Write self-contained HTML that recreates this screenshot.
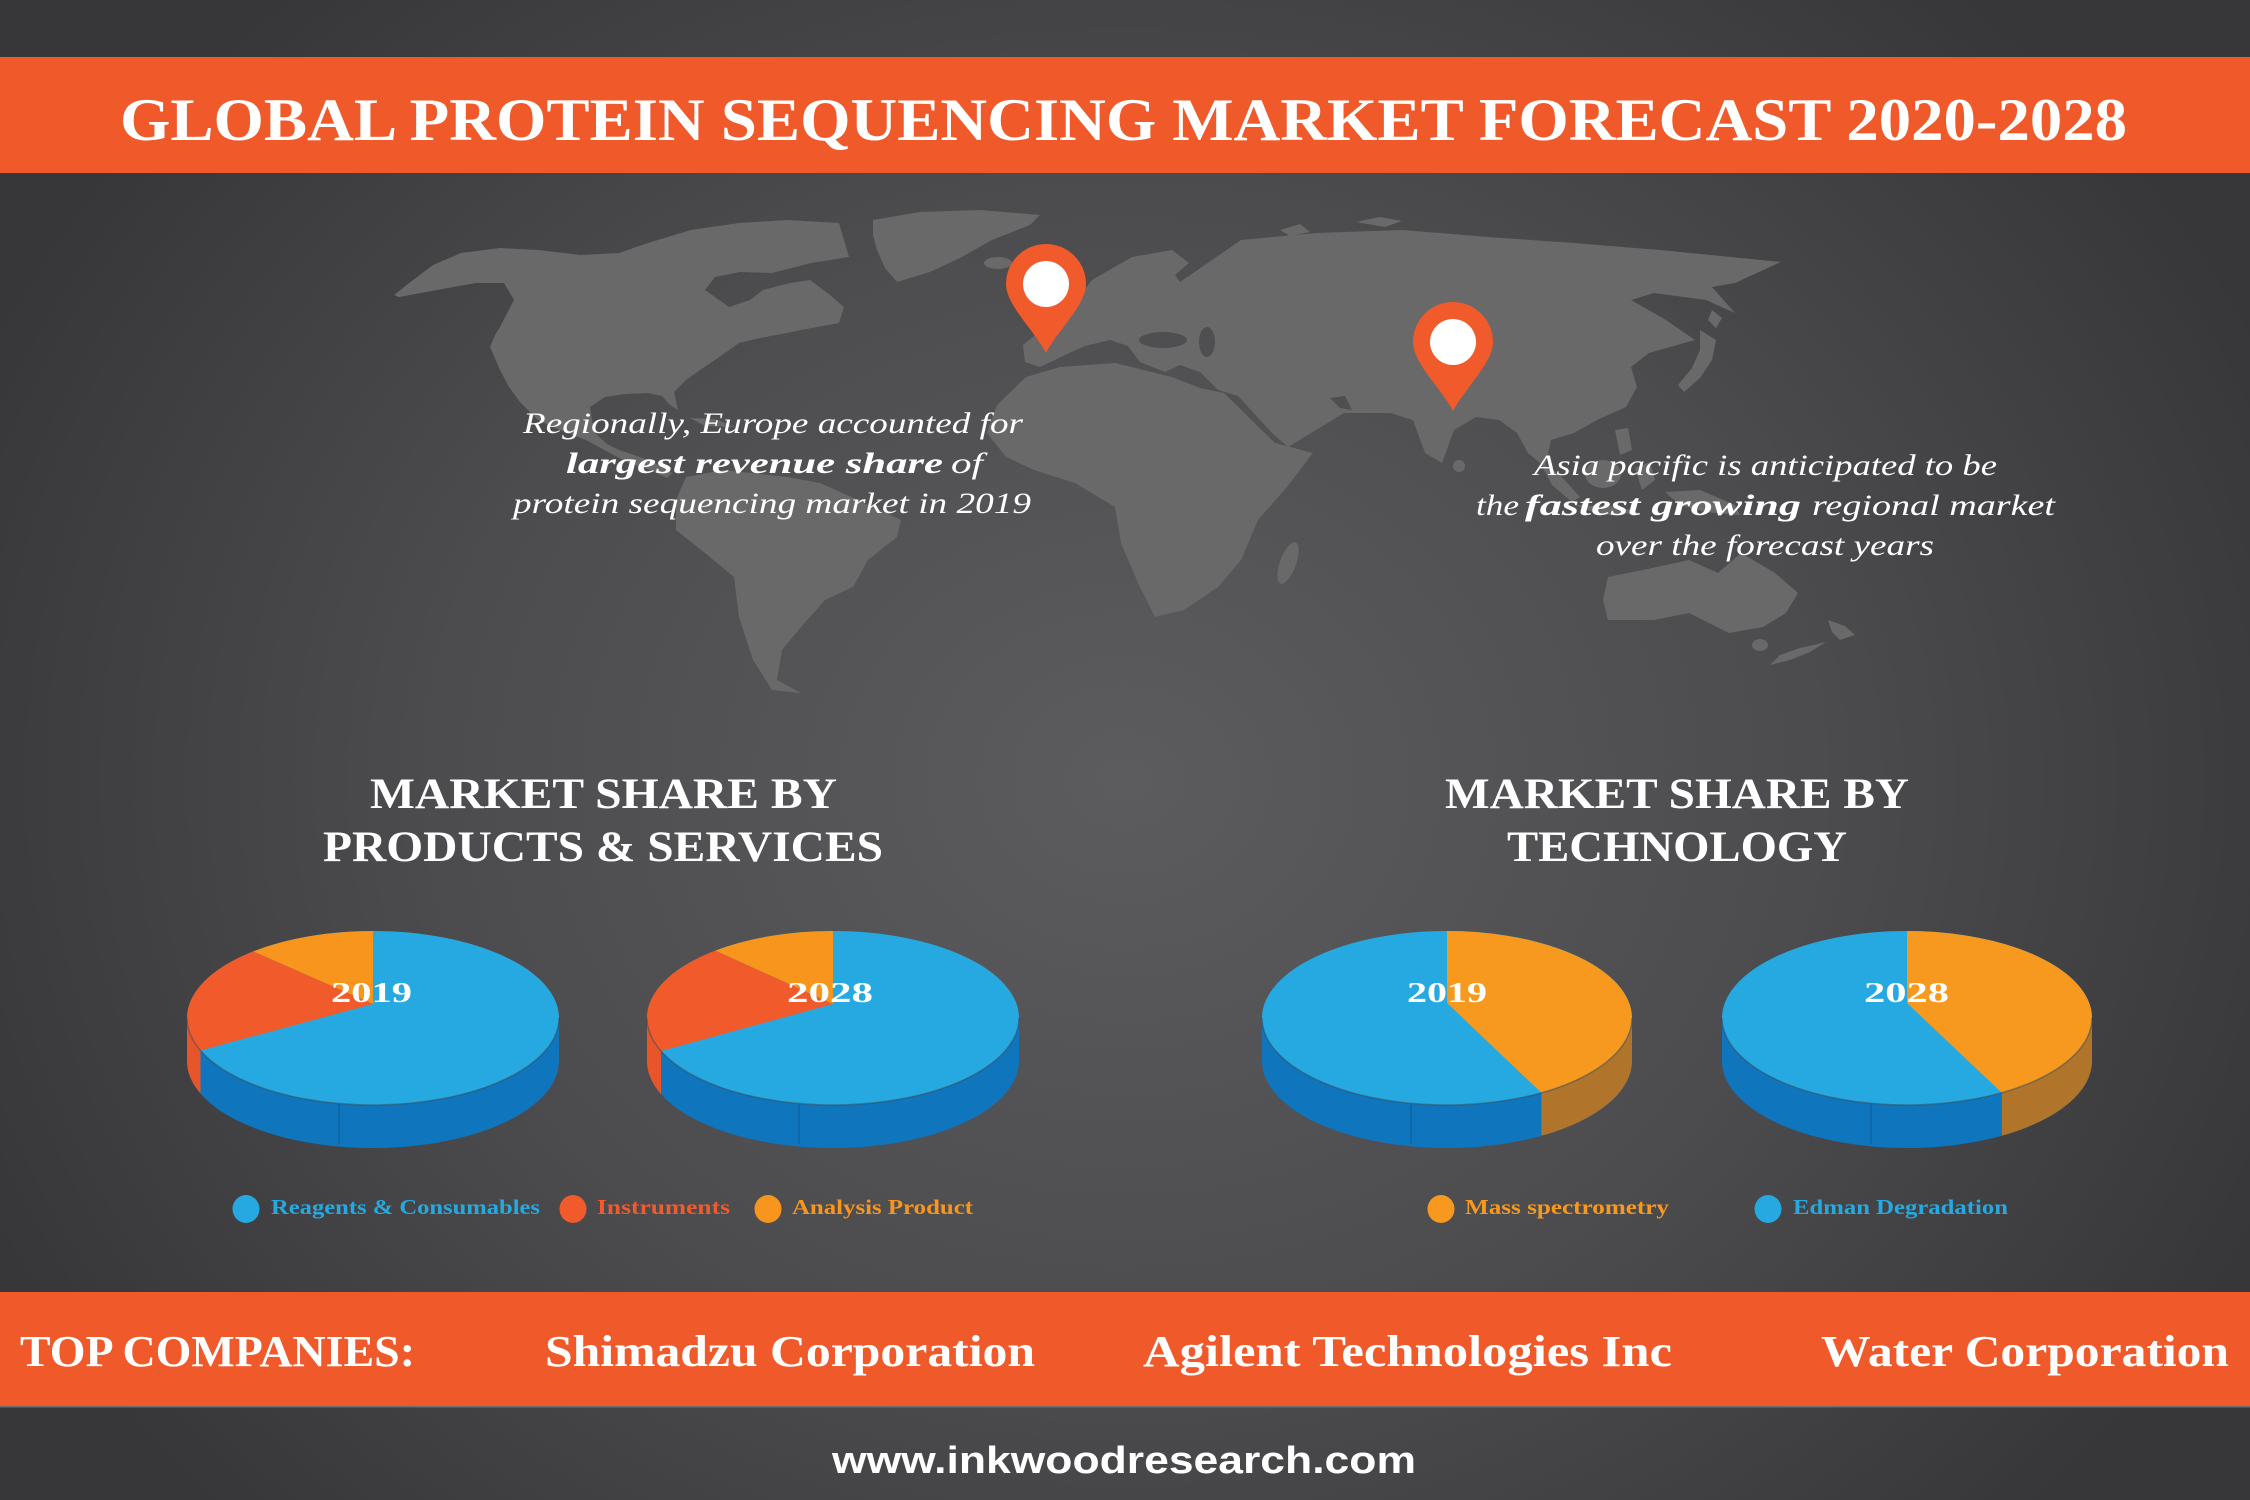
<!DOCTYPE html>
<html>
<head>
<meta charset="utf-8">
<style>
html,body{margin:0;padding:0;background:#404042;}
body{width:2250px;height:1500px;overflow:hidden;}
svg{display:block;}
.serif{font-family:"Liberation Serif","DejaVu Serif",serif;}
.sans{font-family:"Liberation Sans","DejaVu Sans",sans-serif;}
</style>
</head>
<body>
<svg width="2250" height="1500" viewBox="0 0 2250 1500" xmlns="http://www.w3.org/2000/svg">
<defs>
<radialGradient id="bg" gradientUnits="userSpaceOnUse" cx="1125" cy="780" r="1250" gradientTransform="translate(1125 780) scale(1 0.85) translate(-1125 -780)">
<stop offset="0" stop-color="#5c5c5e"/>
<stop offset="0.55" stop-color="#4c4c4e"/>
<stop offset="1" stop-color="#373739"/>
</radialGradient>
</defs>

<rect x="0" y="0" width="2250" height="1500" fill="url(#bg)"/>

<!-- Title banner -->
<rect x="0" y="57" width="2250" height="116" fill="#f05a2b"/>
<text class="serif" x="120" y="140" font-size="60" font-weight="bold" fill="#ffffff" textLength="2007" lengthAdjust="spacingAndGlyphs">GLOBAL PROTEIN SEQUENCING MARKET FORECAST 2020-2028</text>

<!-- World map -->
<g fill="#69696a">
<!-- North America -->
<polygon points="394,295 413,280 433,265 461,253 500,248 538,250 581,255 619,253 648,243 691,230 739,223 787,220 839,223 849,257 811,263 772,273 740,272 715,277 705,290 729,307 750,300 763,290 790,283 810,280 830,295 844,307 839,323 801,330 787,333 760,338 739,343 715,360 700,370 686,380 674,392 678,410 670,405 662,396 648,393 625,394 605,397 590,407 592,420 595,433 607,444 619,450 634,455 648,460 660,466 672,473 667,478 650,470 629,463 608,452 586,440 560,430 538,420 520,402 509,387 500,370 490,347 495,335 500,327 514,300 504,283 476,283 437,290 399,297"/>
<polygon points="690,418 715,419 735,427 705,426"/>
<!-- Greenland -->
<polygon points="873,220 920,212 980,210 1040,215 1030,225 992,240 960,258 930,272 897,282 885,268 877,250 873,235"/>
<ellipse cx="998" cy="263" rx="14" ry="6"/>
<!-- South America -->
<polygon points="686,477 724,470 787,477 820,483 858,500 901,520 897,537 868,560 853,587 825,600 801,627 782,650 777,680 801,693 772,690 753,660 739,617 734,577 705,553 676,530 676,500"/>
<!-- Eurasia -->
<polygon points="1023,345 1035,335 1050,320 1065,305 1080,295 1092,280 1132,257 1172,250 1189,263 1175,275 1180,282 1215,258 1241,240 1316,233 1402,230 1488,237 1574,243 1660,250 1781,262 1735,283 1712,287 1735,313 1706,300 1654,293 1631,300 1666,320 1695,340 1649,353 1631,367 1637,387 1626,407 1597,420 1574,433 1551,440 1545,467 1528,453 1517,433 1499,420 1476,417 1454,430 1442,463 1425,453 1413,420 1390,413 1344,413 1321,427 1288,447 1272,433 1238,396 1218,390 1200,372 1180,365 1165,372 1150,366 1140,362 1128,346 1110,340 1085,346 1065,355 1040,367 1025,362"/>
<!-- UK / Scandinavia hints -->
<polygon points="1040,262 1055,250 1065,262 1060,285 1045,290"/>
<polygon points="1356,222 1380,217 1402,221 1385,227"/>
<polygon points="1280,230 1300,224 1310,232 1290,236"/>
<!-- Japan -->
<polygon points="1700,330 1716,340 1712,360 1700,378 1684,392 1678,385 1692,368 1700,350"/>
<polygon points="1712,310 1722,318 1716,328 1708,320"/>
<!-- Africa -->
<polygon points="1224,393 1275,443 1313,453 1300,470 1287,487 1258,520 1241,560 1218,587 1184,610 1155,617 1138,583 1121,543 1115,507 1075,483 1034,470 1006,457 987,433 997,405 1026,377 1060,367 1115,363 1172,377 1200,388"/>
<ellipse cx="1288" cy="563" rx="8" ry="22" transform="rotate(20 1288 563)"/>
<!-- SE Asia islands -->
<polygon points="1540,462 1560,475 1580,497 1572,502 1552,485"/>
<ellipse cx="1603" cy="474" rx="18" ry="14"/>
<polygon points="1575,505 1620,507 1640,513 1600,515"/>
<polygon points="1635,468 1650,462 1655,480 1642,490"/>
<polygon points="1615,430 1628,428 1632,450 1620,455"/>
<polygon points="1665,492 1700,490 1735,505 1740,515 1705,512 1680,505"/>
<circle cx="1459" cy="466" r="6"/>
<!-- Australia -->
<polygon points="1608,577 1643,570 1689,560 1718,573 1741,553 1775,573 1798,593 1786,613 1763,627 1729,633 1689,613 1654,620 1608,620 1603,600"/>
<ellipse cx="1760" cy="645" rx="8" ry="6"/>
<!-- New Zealand -->
<polygon points="1828,620 1845,626 1855,635 1840,640 1832,632"/>
<polygon points="1826,642 1810,652 1790,660 1770,665 1780,655 1800,648"/>
</g>
<!-- inland seas -->
<g fill="#4f4f51">
<ellipse cx="1163" cy="340" rx="24" ry="8"/>
<ellipse cx="1207" cy="342" rx="8" ry="15"/>
<polygon points="1330,398 1345,396 1352,410 1340,408"/>
</g>

<!-- Pins -->
<g fill="#f15a2b">
<path d="M1046,353 C1034,330 1006,305 1006,284 A40,40 0 0 1 1086,284 C1086,305 1058,330 1046,353 Z"/>
<path d="M1453,411 C1441,388 1413,363 1413,342 A40,40 0 0 1 1493,342 C1493,363 1465,388 1453,411 Z"/>
</g>
<circle cx="1046" cy="284" r="23" fill="#ffffff"/>
<circle cx="1453" cy="342" r="23" fill="#ffffff"/>

<!-- Paragraph texts -->
<g class="serif" fill="#ffffff" font-size="30" font-style="italic">
<text x="523" y="433" textLength="500" lengthAdjust="spacingAndGlyphs">Regionally, Europe accounted for</text>
<text x="566" y="473" font-weight="bold" textLength="377" lengthAdjust="spacingAndGlyphs">largest revenue share</text>
<text x="951" y="473" textLength="32" lengthAdjust="spacingAndGlyphs">of</text>
<text x="513" y="513" textLength="518" lengthAdjust="spacingAndGlyphs">protein sequencing market in 2019</text>

<text x="1534" y="475" textLength="463" lengthAdjust="spacingAndGlyphs">Asia pacific is anticipated to be</text>
<text x="1476" y="515" textLength="43" lengthAdjust="spacingAndGlyphs">the</text>
<text x="1525" y="515" font-weight="bold" textLength="276" lengthAdjust="spacingAndGlyphs">fastest growing</text>
<text x="1812" y="515" textLength="243" lengthAdjust="spacingAndGlyphs">regional market</text>
<text x="1596" y="555" textLength="338" lengthAdjust="spacingAndGlyphs">over the forecast years</text>
</g>

<!-- Section headings -->
<g class="serif" fill="#ffffff" font-size="43" font-weight="bold">
<text x="370" y="808" textLength="467" lengthAdjust="spacingAndGlyphs">MARKET SHARE BY</text>
<text x="323" y="861" textLength="560" lengthAdjust="spacingAndGlyphs">PRODUCTS &amp; SERVICES</text>
<text x="1445" y="808" textLength="464" lengthAdjust="spacingAndGlyphs">MARKET SHARE BY</text>
<text x="1507" y="861" textLength="340" lengthAdjust="spacingAndGlyphs">TECHNOLOGY</text>
</g>

<!-- Pie: Products 2019 -->
<g>
<path d="M187,1018 L187,1061 A186,87 0 0 0 559,1061 L559,1018 A186,87 0 0 1 187,1018 Z" fill="#0f75bc"/>
<path d="M187,1018 L187,1061 A186,87 0 0 0 200.5,1093.5 L200.5,1050.5 A186,87 0 0 1 187,1018 Z" fill="#e8552a"/>
<line x1="339" y1="1101" x2="339" y2="1144" stroke="#0b66a6" stroke-width="1.5"/>
<ellipse cx="373" cy="1018" rx="186" ry="87" fill="#26a9e0"/>
<path d="M373,1004 L373,931 A186,87 0 0 0 253.3,951.4 Z" fill="#f7951d"/>
<path d="M373,1004 L253.3,951.4 A186,87 0 0 0 200.5,1050.5 Z" fill="#f15a2b"/>
<path d="M187,1018 A186,87 0 0 0 559,1018" fill="none" stroke="#3a4a58" stroke-opacity="0.5" stroke-width="1.5"/>
</g>

<!-- Pie: Products 2028 -->
<g>
<path d="M647,1018 L647,1061 A186,87 0 0 0 1019,1061 L1019,1018 A186,87 0 0 1 647,1018 Z" fill="#0f75bc"/>
<path d="M647,1018 L647,1061 A186,87 0 0 0 661,1094.1 L661,1051.1 A186,87 0 0 1 647,1018 Z" fill="#e8552a"/>
<line x1="799" y1="1101" x2="799" y2="1144" stroke="#0b66a6" stroke-width="1.5"/>
<ellipse cx="833" cy="1018" rx="186" ry="87" fill="#26a9e0"/>
<path d="M833,1004 L833,931 A186,87 0 0 0 715.4,950.6 Z" fill="#f7951d"/>
<path d="M833,1004 L715.4,950.6 A186,87 0 0 0 661,1051.1 Z" fill="#f15a2b"/>
<path d="M647,1018 A186,87 0 0 0 1019,1018" fill="none" stroke="#3a4a58" stroke-opacity="0.5" stroke-width="1.5"/>
</g>

<!-- Pie: Technology 2019 -->
<g>
<path d="M1262,1018 L1262,1061 A185,87 0 0 0 1632,1061 L1632,1018 A185,87 0 0 1 1262,1018 Z" fill="#0f75bc"/>
<path d="M1541.4,1092.8 L1541.4,1135.8 A185,87 0 0 0 1632,1061 L1632,1018 A185,87 0 0 1 1541.4,1092.8 Z" fill="#b1742b"/>
<line x1="1411" y1="1101" x2="1411" y2="1144" stroke="#0b66a6" stroke-width="1.5"/>
<ellipse cx="1447" cy="1018" rx="185" ry="87" fill="#26a9e0"/>
<path d="M1447,1003 L1447,931 A185,87 0 0 1 1541.4,1092.8 Z" fill="#f7991e"/>
<path d="M1262,1018 A185,87 0 0 0 1632,1018" fill="none" stroke="#3a4a58" stroke-opacity="0.5" stroke-width="1.5"/>
</g>

<!-- Pie: Technology 2028 -->
<g>
<path d="M1722,1018 L1722,1061 A185,87 0 0 0 2092,1061 L2092,1018 A185,87 0 0 1 1722,1018 Z" fill="#0f75bc"/>
<path d="M2001.8,1092.7 L2001.8,1135.7 A185,87 0 0 0 2092,1061 L2092,1018 A185,87 0 0 1 2001.8,1092.7 Z" fill="#b1742b"/>
<line x1="1871" y1="1101" x2="1871" y2="1144" stroke="#0b66a6" stroke-width="1.5"/>
<ellipse cx="1907" cy="1018" rx="185" ry="87" fill="#26a9e0"/>
<path d="M1907,1003 L1907,931 A185,87 0 0 1 2001.8,1092.7 Z" fill="#f7991e"/>
<path d="M1722,1018 A185,87 0 0 0 2092,1018" fill="none" stroke="#3a4a58" stroke-opacity="0.5" stroke-width="1.5"/>
</g>

<!-- Year labels -->
<g class="serif" fill="#ffffff" font-size="29" font-weight="bold">
<text x="331" y="1002" textLength="81" lengthAdjust="spacingAndGlyphs">2019</text>
<text x="787" y="1002" textLength="86" lengthAdjust="spacingAndGlyphs">2028</text>
<text x="1407" y="1002" textLength="80" lengthAdjust="spacingAndGlyphs">2019</text>
<text x="1864" y="1002" textLength="85" lengthAdjust="spacingAndGlyphs">2028</text>
</g>

<!-- Legends -->
<ellipse cx="246" cy="1209" rx="13.5" ry="14" fill="#26a9e0"/>
<ellipse cx="573" cy="1209" rx="13.5" ry="14" fill="#f15a2b"/>
<ellipse cx="768" cy="1209" rx="13.5" ry="14" fill="#f7951d"/>
<ellipse cx="1441" cy="1209" rx="13.5" ry="14" fill="#f7991e"/>
<ellipse cx="1768" cy="1209" rx="13.5" ry="14" fill="#26a9e0"/>
<g class="serif" font-size="21" font-weight="bold">
<text x="271" y="1214" fill="#26a9e0" textLength="269" lengthAdjust="spacingAndGlyphs">Reagents &amp; Consumables</text>
<text x="597" y="1214" fill="#f15a2b" textLength="133" lengthAdjust="spacingAndGlyphs">Instruments</text>
<text x="792" y="1214" fill="#f7951d" textLength="181" lengthAdjust="spacingAndGlyphs">Analysis Product</text>
<text x="1465" y="1214" fill="#f7991e" textLength="204" lengthAdjust="spacingAndGlyphs">Mass spectrometry</text>
<text x="1793" y="1214" fill="#26a9e0" textLength="215" lengthAdjust="spacingAndGlyphs">Edman Degradation</text>
</g>

<!-- Footer band -->
<rect x="0" y="1292" width="2250" height="115" fill="#f05a2b"/>
<rect x="0" y="1406" width="2250" height="1.5" fill="#6e6e70"/>
<g class="serif" fill="#ffffff" font-size="44" font-weight="bold">
<text x="20" y="1366" textLength="395" lengthAdjust="spacingAndGlyphs">TOP COMPANIES:</text>
<text x="545" y="1366" textLength="490" lengthAdjust="spacingAndGlyphs">Shimadzu Corporation</text>
<text x="1143" y="1366" textLength="529" lengthAdjust="spacingAndGlyphs">Agilent Technologies Inc</text>
<text x="1821" y="1366" textLength="408" lengthAdjust="spacingAndGlyphs">Water Corporation</text>
</g>

<text class="sans" x="832" y="1473" font-size="38" font-weight="bold" fill="#ffffff" textLength="584" lengthAdjust="spacingAndGlyphs">www.inkwoodresearch.com</text>
</svg>
</body>
</html>
